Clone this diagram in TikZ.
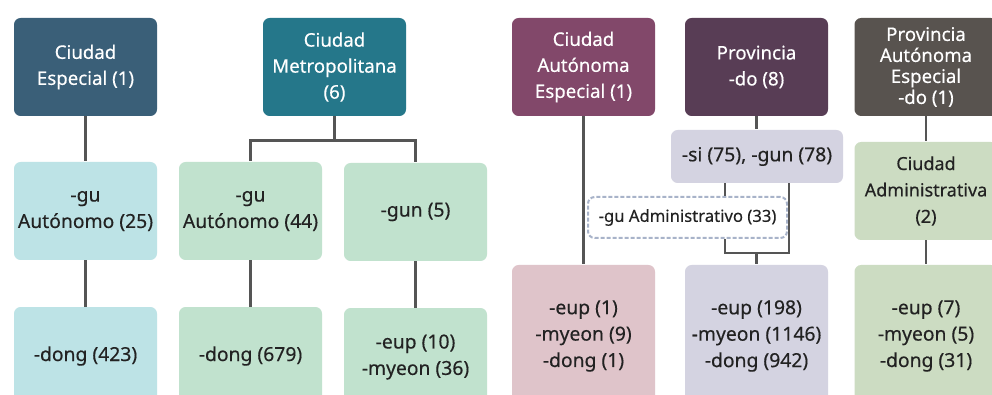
\documentclass[tikz,border=0pt]{standalone}
\usepackage{fontspec}
\setmainfont{Noto Sans}[FakeBold=0.35]
\definecolor{espBlue}{RGB}{58,95,120}
\definecolor{metTeal}{RGB}{37,119,138}
\definecolor{autPlum}{RGB}{130,72,106}
\definecolor{proPlum}{RGB}{88,61,85}
\definecolor{paeGray}{RGB}{88,83,79}
\definecolor{lightBlue}{RGB}{189,227,230}
\definecolor{lightGreen}{RGB}{193,226,206}
\definecolor{lightPink}{RGB}{223,196,202}
\definecolor{lightLav}{RGB}{212,211,225}
\definecolor{lightSage}{RGB}{204,220,194}
\definecolor{linkGray}{RGB}{85,85,85}
\definecolor{dashBlue}{RGB}{168,179,201}
\definecolor{txtDark}{RGB}{34,34,34}

\tikzset{every picture/.style={line width=0.75pt}}
\tikzset{
  unitbox/.style={rectangle, rounded corners=5pt, align=center, inner sep=0pt,
    minimum width=107.25pt, minimum height=73.5pt},
  topbox/.style={unitbox, text=white, font=\fontsize{14}{19.5}\selectfont},
  subbox/.style={unitbox, text=txtDark, font=\fontsize{14.5}{19.8}\selectfont},
  link/.style={draw=linkGray, line width=2pt}
}

\begin{document}
\begin{tikzpicture}[x=0.75pt,y=0.75pt,yscale=-1,xscale=1]
\clip (0,0) rectangle (992,395);
\fill[white] (0,0) rectangle (992,395);

%Top row
\node [topbox, fill=espBlue] (espT) at (85.5,67) {Ciudad\\Especial (1)};
\node [topbox, fill=metTeal] (metT) at (334.5,67) {Ciudad\\Metropolitana\\(6)};
\node [topbox, fill=autPlum] (autT) at (583.5,67) {Ciudad\\Autónoma\\Especial (1)};
\node [topbox, fill=proPlum] (proT) at (756.5,67) {Provincia\\-do (8)};
\node [topbox, fill=paeGray, font=\fontsize{14}{15.75}\selectfont] (paeT) at (926,67) {Provincia\\Autónoma\\Especial\\-do (1)};

%Middle row
\node [subbox, fill=lightBlue] (guA) at (85.5,211) {-gu\\Autónomo (25)};
\node [subbox, fill=lightGreen] (guB) at (250.5,211) {-gu\\Autónomo (44)};
\node [subbox, fill=lightGreen] (gunB) at (415.5,212) {-gun (5)};
\node [subbox, fill=lightLav, minimum width=129pt, minimum height=39.75pt] (siGun) at (757,156.5) {-si (75), -gun (78)};
\node [subbox, fill=white, draw=dashBlue, dash pattern=on 3pt off 1.5pt, line width=1.5pt, minimum width=149.25pt, minimum height=30.75pt,
  font=\fontsize{12.5}{14}\selectfont] (guAdm) at (687.5,217.5) {-gu Administrativo (33)};
\node [subbox, fill=lightSage, font=\fontsize{13.5}{19.8}\selectfont] (ciuAdm) at (926,191) {Ciudad\\Administrativa\\(2)};

%Bottom row
\node [subbox, fill=lightBlue] (dongA) at (85.5,356) {-dong (423)};
\node [subbox, fill=lightGreen] (dongB) at (250.5,356) {-dong (679)};
\node [subbox, fill=lightGreen] (eupB) at (415.5,357) {-eup (10)\\-myeon (36)};
\node [subbox, fill=lightPink, minimum height=106.5pt] (autB) at (583.5,336) {-eup (1)\\-myeon (9)\\-dong (1)};
\node [subbox, fill=lightLav, minimum height=106.5pt] (proB) at (756.5,336) {-eup (198)\\-myeon (1146)\\-dong (942)};
\node [subbox, fill=lightSage, minimum height=106.5pt] (paeB) at (926,336) {-eup (7)\\-myeon (5)\\-dong (31)};

\coordinate (proJoin) at (756.5,253);

%Connectors
\draw [link] (espT.south) -- (guA.north);
\draw [link] (guA.south) -- (dongA.north);
\draw [link] (metT.south) -- ++(0,24) -| (guB.north);
\draw [link] (metT.south) -- ++(0,24) -| (gunB.north);
\draw [link] (guB.south) -- (dongB.north);
\draw [link] (gunB.south) -- (eupB.north);
\draw [link] (autT.south) -- (autB.north);
\draw [link] (proT.south) -- (proT.south |- siGun.north);
\draw [link] ([xshift=-24pt]siGun.south) -- ([xshift=-24pt]siGun.south |- guAdm.north);
\draw [link] ([xshift=-24pt]siGun.south |- guAdm.south) |- (proJoin) -| ([xshift=24pt]siGun.south);
\draw [link] (proJoin) -- (proB.north);
\draw [link] (paeT.south) -- (ciuAdm.north);
\draw [link] (ciuAdm.south) -- (paeB.north);

\end{tikzpicture}
\end{document}
